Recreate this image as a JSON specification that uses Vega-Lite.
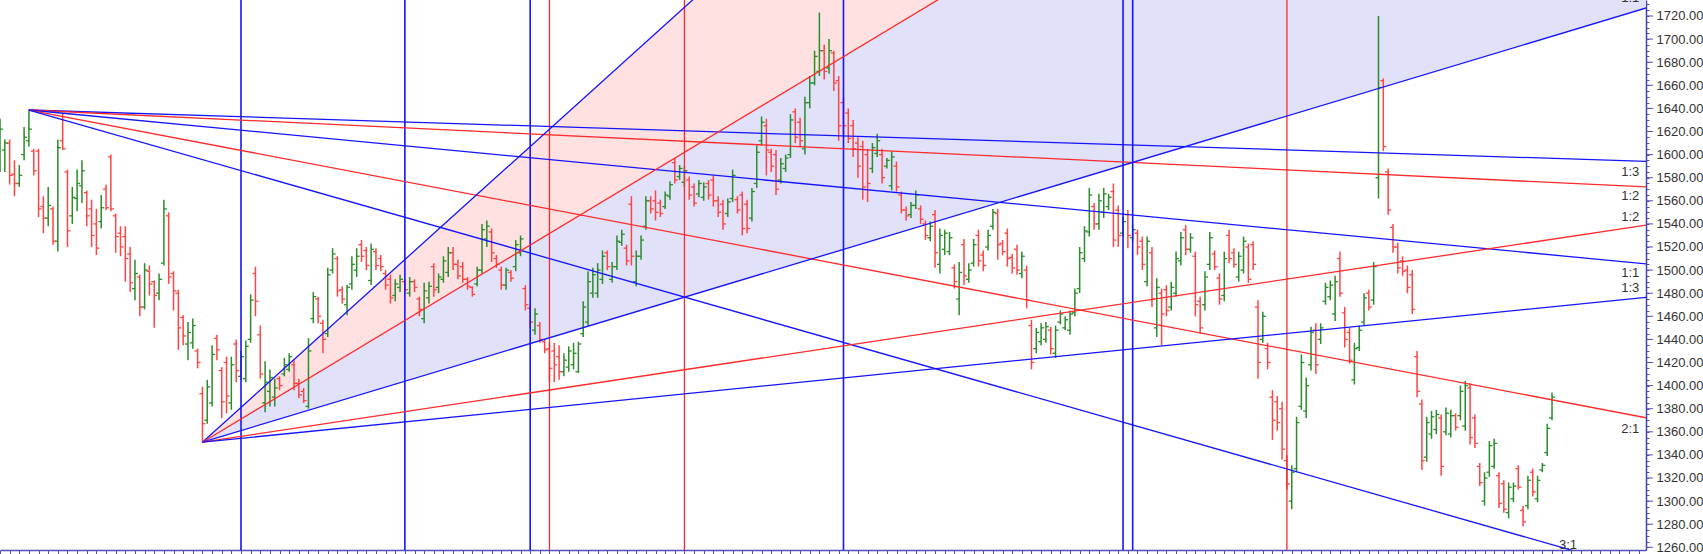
{
  "$schema": "https://vega.github.io/schema/vega-lite/v6.json",
  "width": 1646,
  "height": 550,
  "autosize": {"type": "none"},
  "padding": {"left": 0, "top": 0, "right": 57, "bottom": 4},
  "background": "white",
  "config": {"view": {"stroke": null}, "font": "Liberation Sans"},
  "datasets": {
    "bars": [
      {"i":0,"o":1595,"h":1631,"l":1585,"c":1622},{"i":1,"o":1604,"h":1613,"l":1585,"c":1610},{"i":2,"o":1610,"h":1613,"l":1574,"c":1582},{"i":3,"o":1583,"h":1595,"l":1564,"c":1575},{"i":4,"o":1575,"h":1591,"l":1572,"c":1582},{"i":5,"o":1600,"h":1624,"l":1595,"c":1615},{"i":6,"o":1612,"h":1639,"l":1607,"c":1622},{"i":7,"o":1603,"h":1605,"l":1582,"c":1586},{"i":8,"o":1603,"h":1605,"l":1546,"c":1553},{"i":9,"o":1555,"h":1564,"l":1532,"c":1545},
      {"i":10,"o":1545,"h":1572,"l":1538,"c":1556},{"i":11,"o":1553,"h":1555,"l":1522,"c":1525},{"i":12,"o":1525,"h":1613,"l":1516,"c":1606},{"i":13,"o":1612,"h":1636,"l":1604,"c":1605},{"i":14,"o":1585,"h":1587,"l":1520,"c":1534},{"i":15,"o":1547,"h":1572,"l":1540,"c":1563},{"i":16,"o":1562,"h":1587,"l":1551,"c":1575},{"i":17,"o":1573,"h":1595,"l":1558,"c":1586},{"i":18,"o":1567,"h":1569,"l":1538,"c":1547},{"i":19,"o":1553,"h":1561,"l":1520,"c":1530},
      {"i":20,"o":1540,"h":1553,"l":1513,"c":1519},{"i":21,"o":1542,"h":1565,"l":1536,"c":1554},{"i":22,"o":1570,"h":1574,"l":1552,"c":1554},{"i":23,"o":1598,"h":1600,"l":1551,"c":1553},{"i":24,"o":1547,"h":1549,"l":1515,"c":1529},{"i":25,"o":1532,"h":1538,"l":1512,"c":1520},{"i":26,"o":1529,"h":1538,"l":1490,"c":1510},{"i":27,"o":1514,"h":1520,"l":1481,"c":1489},{"i":28,"o":1484,"h":1509,"l":1474,"c":1497},{"i":29,"o":1494,"h":1496,"l":1460,"c":1468},
      {"i":30,"o":1468,"h":1506,"l":1466,"c":1500},{"i":31,"o":1499,"h":1504,"l":1478,"c":1488},{"i":32,"o":1490,"h":1491,"l":1450,"c":1478},{"i":33,"o":1480,"h":1497,"l":1474,"c":1492},{"i":34,"o":1506,"h":1561,"l":1504,"c":1553},{"i":35,"o":1547,"h":1550,"l":1488,"c":1494},{"i":36,"o":1497,"h":1499,"l":1465,"c":1482},{"i":37,"o":1480,"h":1483,"l":1431,"c":1450},{"i":38,"o":1459,"h":1461,"l":1435,"c":1443},{"i":39,"o":1436,"h":1455,"l":1422,"c":1446},
      {"i":40,"o":1437,"h":1458,"l":1432,"c":1452},{"i":41,"o":1430,"h":1432,"l":1415,"c":1420},{"i":42,"o":1393,"h":1399,"l":1351,"c":1367},{"i":43,"o":1370,"h":1405,"l":1367,"c":1399},{"i":44,"o":1385,"h":1435,"l":1382,"c":1427},{"i":45,"o":1441,"h":1444,"l":1422,"c":1431},{"i":46,"o":1413,"h":1416,"l":1372,"c":1386},{"i":47,"o":1420,"h":1425,"l":1376,"c":1391},{"i":48,"o":1385,"h":1425,"l":1379,"c":1418},{"i":49,"o":1436,"h":1440,"l":1403,"c":1413},
      {"i":50,"o":1408,"h":1430,"l":1405,"c":1425},{"i":51,"o":1406,"h":1439,"l":1403,"c":1434},{"i":52,"o":1440,"h":1479,"l":1437,"c":1474},{"i":53,"o":1497,"h":1503,"l":1460,"c":1473},{"i":54,"o":1444,"h":1452,"l":1406,"c":1410},{"i":55,"o":1385,"h":1421,"l":1377,"c":1403},{"i":56,"o":1395,"h":1414,"l":1382,"c":1407},{"i":57,"o":1390,"h":1406,"l":1382,"c":1398},{"i":58,"o":1406,"h":1408,"l":1396,"c":1400},{"i":59,"o":1410,"h":1424,"l":1408,"c":1418},
      {"i":60,"o":1414,"h":1428,"l":1412,"c":1425},{"i":61,"o":1418,"h":1422,"l":1396,"c":1402},{"i":62,"o":1402,"h":1406,"l":1389,"c":1392},{"i":63,"o":1395,"h":1398,"l":1385,"c":1387},{"i":64,"o":1382,"h":1441,"l":1380,"c":1430},{"i":65,"o":1458,"h":1481,"l":1454,"c":1477},{"i":66,"o":1475,"h":1477,"l":1454,"c":1460},{"i":67,"o":1454,"h":1457,"l":1428,"c":1440},{"i":68,"o":1445,"h":1502,"l":1442,"c":1496},{"i":69,"o":1500,"h":1519,"l":1497,"c":1514},
      {"i":70,"o":1510,"h":1512,"l":1477,"c":1482},{"i":71,"o":1483,"h":1486,"l":1471,"c":1475},{"i":72,"o":1470,"h":1487,"l":1461,"c":1485},{"i":73,"o":1488,"h":1512,"l":1483,"c":1505},{"i":74,"o":1500,"h":1519,"l":1494,"c":1512},{"i":75,"o":1522,"h":1526,"l":1507,"c":1512},{"i":76,"o":1517,"h":1520,"l":1500,"c":1504},{"i":77,"o":1491,"h":1523,"l":1487,"c":1518},{"i":78,"o":1516,"h":1519,"l":1500,"c":1504},{"i":79,"o":1510,"h":1513,"l":1499,"c":1503},
      {"i":80,"o":1497,"h":1500,"l":1483,"c":1487},{"i":81,"o":1492,"h":1496,"l":1471,"c":1476},{"i":82,"o":1478,"h":1492,"l":1473,"c":1488},{"i":83,"o":1485,"h":1496,"l":1481,"c":1492},{"i":84,"o":1490,"h":1492,"l":1479,"c":1483},{"i":85,"o":1480,"h":1494,"l":1477,"c":1490},{"i":86,"o":1490,"h":1492,"l":1481,"c":1485},{"i":87,"o":1475,"h":1477,"l":1460,"c":1466},{"i":88,"o":1458,"h":1489,"l":1454,"c":1482},{"i":89,"o":1476,"h":1490,"l":1471,"c":1486},
      {"i":90,"o":1503,"h":1506,"l":1477,"c":1483},{"i":91,"o":1485,"h":1497,"l":1480,"c":1494},{"i":92,"o":1492,"h":1512,"l":1489,"c":1508},{"i":93,"o":1498,"h":1520,"l":1494,"c":1515},{"i":94,"o":1515,"h":1520,"l":1500,"c":1505},{"i":95,"o":1505,"h":1509,"l":1492,"c":1495},{"i":96,"o":1503,"h":1507,"l":1489,"c":1492},{"i":97,"o":1492,"h":1494,"l":1483,"c":1486},{"i":98,"o":1485,"h":1486,"l":1477,"c":1479},{"i":99,"o":1488,"h":1503,"l":1486,"c":1500},
      {"i":100,"o":1500,"h":1540,"l":1497,"c":1535},{"i":101,"o":1527,"h":1543,"l":1520,"c":1538},{"i":102,"o":1533,"h":1536,"l":1507,"c":1515},{"i":103,"o":1510,"h":1513,"l":1502,"c":1505},{"i":104,"o":1500,"h":1503,"l":1483,"c":1487},{"i":105,"o":1487,"h":1502,"l":1483,"c":1500},{"i":106,"o":1498,"h":1500,"l":1490,"c":1493},{"i":107,"o":1503,"h":1526,"l":1499,"c":1522},{"i":108,"o":1515,"h":1530,"l":1512,"c":1527},{"i":109,"o":1484,"h":1487,"l":1465,"c":1470},
      {"i":110,"o":1467,"h":1470,"l":1450,"c":1455},{"i":111,"o":1448,"h":1467,"l":1444,"c":1462},{"i":112,"o":1452,"h":1455,"l":1437,"c":1440},{"i":113,"o":1438,"h":1440,"l":1428,"c":1431},{"i":114,"o":1432,"h":1437,"l":1403,"c":1415},{"i":115,"o":1430,"h":1437,"l":1403,"c":1418},{"i":116,"o":1425,"h":1435,"l":1405,"c":1412},{"i":117,"o":1412,"h":1428,"l":1408,"c":1422},{"i":118,"o":1416,"h":1434,"l":1412,"c":1430},{"i":119,"o":1418,"h":1437,"l":1414,"c":1428},
      {"i":120,"o":1412,"h":1438,"l":1411,"c":1436},{"i":121,"o":1445,"h":1473,"l":1442,"c":1468},{"i":122,"o":1455,"h":1499,"l":1452,"c":1490},{"i":123,"o":1480,"h":1502,"l":1476,"c":1496},{"i":124,"o":1480,"h":1506,"l":1476,"c":1500},{"i":125,"o":1492,"h":1517,"l":1488,"c":1512},{"i":126,"o":1515,"h":1517,"l":1500,"c":1503},{"i":127,"o":1492,"h":1507,"l":1489,"c":1503},{"i":128,"o":1503,"h":1530,"l":1500,"c":1525},{"i":129,"o":1524,"h":1535,"l":1521,"c":1531},
      {"i":130,"o":1519,"h":1522,"l":1504,"c":1508},{"i":131,"o":1557,"h":1564,"l":1504,"c":1512},{"i":132,"o":1490,"h":1517,"l":1486,"c":1512},{"i":133,"o":1512,"h":1530,"l":1509,"c":1526},{"i":134,"o":1538,"h":1564,"l":1535,"c":1560},{"i":135,"o":1560,"h":1564,"l":1549,"c":1553},{"i":136,"o":1560,"h":1569,"l":1543,"c":1550},{"i":137,"o":1558,"h":1561,"l":1546,"c":1549},{"i":138,"o":1555,"h":1568,"l":1553,"c":1565},{"i":139,"o":1564,"h":1577,"l":1561,"c":1574},
      {"i":140,"o":1593,"h":1597,"l":1575,"c":1578},{"i":141,"o":1581,"h":1591,"l":1578,"c":1588},{"i":142,"o":1576,"h":1590,"l":1572,"c":1586},{"i":143,"o":1578,"h":1581,"l":1561,"c":1565},{"i":144,"o":1572,"h":1575,"l":1555,"c":1558},{"i":145,"o":1566,"h":1578,"l":1563,"c":1575},{"i":146,"o":1563,"h":1576,"l":1560,"c":1572},{"i":147,"o":1575,"h":1578,"l":1561,"c":1565},{"i":148,"o":1578,"h":1582,"l":1555,"c":1560},{"i":149,"o":1560,"h":1564,"l":1546,"c":1550},
      {"i":150,"o":1557,"h":1561,"l":1535,"c":1540},{"i":151,"o":1549,"h":1562,"l":1546,"c":1559},{"i":152,"o":1562,"h":1587,"l":1559,"c":1582},{"i":153,"o":1561,"h":1564,"l":1549,"c":1552},{"i":154,"o":1565,"h":1568,"l":1530,"c":1536},{"i":155,"o":1557,"h":1561,"l":1532,"c":1536},{"i":156,"o":1545,"h":1571,"l":1542,"c":1568},{"i":157,"o":1575,"h":1608,"l":1571,"c":1602},{"i":158,"o":1612,"h":1633,"l":1608,"c":1628},{"i":159,"o":1625,"h":1631,"l":1582,"c":1604},
      {"i":160,"o":1602,"h":1605,"l":1585,"c":1590},{"i":161,"o":1600,"h":1604,"l":1565,"c":1570},{"i":162,"o":1578,"h":1597,"l":1575,"c":1592},{"i":163,"o":1588,"h":1600,"l":1585,"c":1597},{"i":164,"o":1600,"h":1635,"l":1597,"c":1630},{"i":165,"o":1637,"h":1640,"l":1610,"c":1615},{"i":166,"o":1628,"h":1632,"l":1607,"c":1612},{"i":167,"o":1605,"h":1650,"l":1600,"c":1645},{"i":168,"o":1645,"h":1668,"l":1640,"c":1662},{"i":169,"o":1662,"h":1690,"l":1660,"c":1685},
      {"i":170,"o":1672,"h":1723,"l":1668,"c":1690},{"i":171,"o":1690,"h":1695,"l":1665,"c":1672},{"i":172,"o":1675,"h":1700,"l":1670,"c":1690},{"i":173,"o":1688,"h":1690,"l":1655,"c":1662},{"i":174,"o":1664,"h":1668,"l":1612,"c":1625},{"i":175,"o":1645,"h":1650,"l":1615,"c":1625},{"i":176,"o":1636,"h":1640,"l":1610,"c":1614},{"i":177,"o":1625,"h":1630,"l":1598,"c":1605},{"i":178,"o":1610,"h":1615,"l":1580,"c":1590},{"i":179,"o":1607,"h":1612,"l":1561,"c":1572},
      {"i":180,"o":1600,"h":1605,"l":1559,"c":1575},{"i":181,"o":1588,"h":1610,"l":1584,"c":1606},{"i":182,"o":1601,"h":1618,"l":1598,"c":1612},{"i":183,"o":1600,"h":1605,"l":1575,"c":1580},{"i":184,"o":1590,"h":1597,"l":1588,"c":1595},{"i":185,"o":1573,"h":1603,"l":1569,"c":1598},{"i":186,"o":1590,"h":1594,"l":1568,"c":1572},{"i":187,"o":1565,"h":1568,"l":1549,"c":1552},{"i":188,"o":1552,"h":1555,"l":1543,"c":1547},{"i":189,"o":1548,"h":1559,"l":1545,"c":1556},
      {"i":190,"o":1556,"h":1569,"l":1553,"c":1565},{"i":191,"o":1553,"h":1556,"l":1540,"c":1544},{"i":192,"o":1540,"h":1543,"l":1526,"c":1530},{"i":193,"o":1528,"h":1542,"l":1525,"c":1538},{"i":194,"o":1548,"h":1552,"l":1502,"c":1515},{"i":195,"o":1505,"h":1536,"l":1497,"c":1530},{"i":196,"o":1518,"h":1535,"l":1513,"c":1532},{"i":197,"o":1516,"h":1533,"l":1513,"c":1528},{"i":198,"o":1502,"h":1505,"l":1484,"c":1490},{"i":199,"o":1475,"h":1507,"l":1461,"c":1498},
      {"i":200,"o":1522,"h":1527,"l":1487,"c":1495},{"i":201,"o":1492,"h":1506,"l":1489,"c":1500},{"i":202,"o":1506,"h":1527,"l":1503,"c":1522},{"i":203,"o":1530,"h":1535,"l":1503,"c":1508},{"i":204,"o":1513,"h":1517,"l":1499,"c":1504},{"i":205,"o":1520,"h":1535,"l":1517,"c":1530},{"i":206,"o":1538,"h":1553,"l":1535,"c":1550},{"i":207,"o":1549,"h":1553,"l":1509,"c":1522},{"i":208,"o":1523,"h":1526,"l":1513,"c":1516},{"i":209,"o":1532,"h":1536,"l":1503,"c":1510},
      {"i":210,"o":1511,"h":1514,"l":1497,"c":1502},{"i":211,"o":1518,"h":1522,"l":1496,"c":1500},{"i":212,"o":1497,"h":1516,"l":1493,"c":1512},{"i":213,"o":1500,"h":1504,"l":1467,"c":1474},{"i":214,"o":1452,"h":1457,"l":1414,"c":1420},{"i":215,"o":1432,"h":1450,"l":1428,"c":1446},{"i":216,"o":1438,"h":1454,"l":1435,"c":1450},{"i":217,"o":1440,"h":1455,"l":1437,"c":1451},{"i":218,"o":1448,"h":1451,"l":1427,"c":1432},{"i":219,"o":1428,"h":1452,"l":1424,"c":1448},
      {"i":220,"o":1455,"h":1465,"l":1453,"c":1462},{"i":221,"o":1450,"h":1460,"l":1448,"c":1457},{"i":222,"o":1448,"h":1465,"l":1444,"c":1462},{"i":223,"o":1463,"h":1484,"l":1460,"c":1480},{"i":224,"o":1484,"h":1520,"l":1480,"c":1515},{"i":225,"o":1510,"h":1538,"l":1507,"c":1534},{"i":226,"o":1533,"h":1571,"l":1529,"c":1565},{"i":227,"o":1555,"h":1558,"l":1535,"c":1540},{"i":228,"o":1540,"h":1566,"l":1535,"c":1560},{"i":229,"o":1550,"h":1571,"l":1545,"c":1566},
      {"i":230,"o":1555,"h":1566,"l":1552,"c":1563},{"i":231,"o":1568,"h":1575,"l":1520,"c":1526},{"i":232,"o":1552,"h":1556,"l":1520,"c":1530},{"i":233,"o":1532,"h":1546,"l":1529,"c":1542},{"i":234,"o":1548,"h":1552,"l":1519,"c":1530},{"i":235,"o":1528,"h":1540,"l":1525,"c":1535},{"i":236,"o":1532,"h":1535,"l":1513,"c":1520},{"i":237,"o":1525,"h":1529,"l":1500,"c":1505},{"i":238,"o":1490,"h":1529,"l":1486,"c":1525},{"i":239,"o":1515,"h":1520,"l":1468,"c":1475},
      {"i":240,"o":1450,"h":1493,"l":1442,"c":1485},{"i":241,"o":1480,"h":1484,"l":1435,"c":1462},{"i":242,"o":1483,"h":1487,"l":1460,"c":1465},{"i":243,"o":1468,"h":1490,"l":1465,"c":1485},{"i":244,"o":1480,"h":1516,"l":1477,"c":1510},{"i":245,"o":1508,"h":1533,"l":1504,"c":1528},{"i":246,"o":1535,"h":1539,"l":1513,"c":1518},{"i":247,"o":1518,"h":1532,"l":1515,"c":1528},{"i":248,"o":1512,"h":1516,"l":1460,"c":1470},{"i":249,"o":1473,"h":1477,"l":1445,"c":1450},
      {"i":250,"o":1470,"h":1499,"l":1465,"c":1494},{"i":251,"o":1505,"h":1533,"l":1500,"c":1528},{"i":252,"o":1514,"h":1517,"l":1500,"c":1503},{"i":253,"o":1493,"h":1497,"l":1470,"c":1475},{"i":254,"o":1478,"h":1516,"l":1473,"c":1510},{"i":255,"o":1530,"h":1535,"l":1506,"c":1510},{"i":256,"o":1515,"h":1519,"l":1502,"c":1505},{"i":257,"o":1494,"h":1516,"l":1490,"c":1512},{"i":258,"o":1500,"h":1529,"l":1497,"c":1525},{"i":259,"o":1520,"h":1523,"l":1489,"c":1492},
      {"i":260,"o":1522,"h":1525,"l":1500,"c":1505},{"i":261,"o":1468,"h":1474,"l":1406,"c":1420},{"i":262,"o":1440,"h":1464,"l":1437,"c":1460},{"i":263,"o":1432,"h":1437,"l":1414,"c":1420},{"i":264,"o":1390,"h":1396,"l":1353,"c":1370},{"i":265,"o":1386,"h":1391,"l":1361,"c":1368},{"i":266,"o":1380,"h":1386,"l":1336,"c":1345},{"i":267,"o":1335,"h":1340,"l":1310,"c":1315},{"i":268,"o":1300,"h":1331,"l":1293,"c":1325},{"i":269,"o":1328,"h":1373,"l":1325,"c":1368},
      {"i":270,"o":1382,"h":1427,"l":1379,"c":1420},{"i":271,"o":1378,"h":1407,"l":1372,"c":1400},{"i":272,"o":1418,"h":1451,"l":1413,"c":1446},{"i":273,"o":1448,"h":1454,"l":1410,"c":1418},{"i":274,"o":1440,"h":1454,"l":1436,"c":1450},{"i":275,"o":1473,"h":1489,"l":1470,"c":1485},{"i":276,"o":1477,"h":1491,"l":1474,"c":1487},{"i":277,"o":1462,"h":1495,"l":1456,"c":1490},{"i":278,"o":1510,"h":1516,"l":1477,"c":1480},{"i":279,"o":1463,"h":1468,"l":1433,"c":1440},
      {"i":280,"o":1446,"h":1450,"l":1419,"c":1422},{"i":281,"o":1405,"h":1437,"l":1401,"c":1432},{"i":282,"o":1433,"h":1452,"l":1430,"c":1448},{"i":283,"o":1455,"h":1480,"l":1452,"c":1476},{"i":284,"o":1480,"h":1483,"l":1465,"c":1468},{"i":285,"o":1474,"h":1507,"l":1470,"c":1503},{"i":286,"o":1580,"h":1720,"l":1562,"c":1658},{"i":287,"o":1664,"h":1666,"l":1603,"c":1607},{"i":288,"o":1585,"h":1588,"l":1548,"c":1552},{"i":289,"o":1537,"h":1540,"l":1515,"c":1520},
      {"i":290,"o":1520,"h":1524,"l":1497,"c":1502},{"i":291,"o":1508,"h":1512,"l":1495,"c":1499},{"i":292,"o":1500,"h":1504,"l":1480,"c":1485},{"i":293,"o":1496,"h":1500,"l":1462,"c":1466},{"i":294,"o":1425,"h":1430,"l":1390,"c":1395},{"i":295,"o":1384,"h":1388,"l":1327,"c":1335},{"i":296,"o":1338,"h":1373,"l":1334,"c":1368},{"i":297,"o":1358,"h":1378,"l":1354,"c":1373},{"i":298,"o":1362,"h":1379,"l":1358,"c":1375},{"i":299,"o":1372,"h":1375,"l":1322,"c":1330},
      {"i":300,"o":1360,"h":1381,"l":1357,"c":1376},{"i":301,"o":1358,"h":1379,"l":1355,"c":1374},{"i":302,"o":1374,"h":1376,"l":1361,"c":1364},{"i":303,"o":1374,"h":1400,"l":1370,"c":1395},{"i":304,"o":1365,"h":1404,"l":1361,"c":1400},{"i":305,"o":1398,"h":1402,"l":1349,"c":1355},{"i":306,"o":1372,"h":1375,"l":1346,"c":1350},{"i":307,"o":1330,"h":1333,"l":1313,"c":1316},{"i":308,"o":1300,"h":1325,"l":1296,"c":1320},{"i":309,"o":1325,"h":1352,"l":1321,"c":1348},
      {"i":310,"o":1330,"h":1354,"l":1328,"c":1350},{"i":311,"o":1322,"h":1325,"l":1294,"c":1298},{"i":312,"o":1315,"h":1318,"l":1290,"c":1293},{"i":313,"o":1290,"h":1316,"l":1285,"c":1312},{"i":314,"o":1302,"h":1316,"l":1299,"c":1313},{"i":315,"o":1328,"h":1331,"l":1310,"c":1312},{"i":316,"o":1292,"h":1296,"l":1278,"c":1282},{"i":317,"o":1296,"h":1322,"l":1293,"c":1318},{"i":318,"o":1325,"h":1328,"l":1304,"c":1308},{"i":319,"o":1302,"h":1322,"l":1299,"c":1318},
      {"i":320,"o":1327,"h":1333,"l":1325,"c":1331},{"i":321,"o":1342,"h":1367,"l":1339,"c":1363},{"i":322,"o":1372,"h":1394,"l":1370,"c":1390}
    ],
    "fans": [
      {"fan":"high","ratio":"1:3","i0":6,"p0":1638.6,"i1":345,"p1":1593.7},
      {"fan":"high","ratio":"1:2","i0":6,"p0":1638.6,"i1":345,"p1":1571.3},
      {"fan":"high","ratio":"1:1","i0":6,"p0":1638.6,"i1":345,"p1":1504.0},
      {"fan":"high","ratio":"2:1","i0":6,"p0":1638.6,"i1":345,"p1":1369.4},
      {"fan":"high","ratio":"3:1","i0":6,"p0":1638.6,"i1":345,"p1":1234.9},
      {"fan":"low","ratio":"3:1","i0":42,"p0":1351,"i1":345,"p1":2491.8},
      {"fan":"low","ratio":"2:1","i0":42,"p0":1351,"i1":345,"p1":2111.5},
      {"fan":"low","ratio":"1:1","i0":42,"p0":1351,"i1":345,"p1":1731.3},
      {"fan":"low","ratio":"1:2","i0":42,"p0":1351,"i1":345,"p1":1541.1},
      {"fan":"low","ratio":"1:3","i0":42,"p0":1351,"i1":345,"p1":1477.8}
    ],
    "bands": [
      {"band":"3:1-2:1","i":42,"lo":1351,"hi":1351},
      {"band":"3:1-2:1","i":345,"lo":2111.5,"hi":2491.8},
      {"band":"2:1-1:1","i":42,"lo":1351,"hi":1351},
      {"band":"2:1-1:1","i":345,"lo":1731.3,"hi":2111.5}
    ],
    "cycles": [
      {"i":50,"kind":"time"},{"i":84,"kind":"time"},{"i":110,"kind":"time"},{"i":175,"kind":"time"},{"i":233,"kind":"time"},{"i":235,"kind":"time"},
      {"i":114,"kind":"turn"},{"i":142,"kind":"turn"},{"i":267,"kind":"turn"}
    ],
    "majors": [
      {"p":1260},{"p":1280},{"p":1300},{"p":1320},{"p":1340},{"p":1360},{"p":1380},{"p":1400},{"p":1420},{"p":1440},{"p":1460},{"p":1480},
      {"p":1500},{"p":1520},{"p":1540},{"p":1560},{"p":1580},{"p":1600},{"p":1620},{"p":1640},{"p":1660},{"p":1680},{"p":1700},{"p":1720}
    ],
    "tags": [
      {"t":"1:1","i":340.1,"p":1735.5},
      {"t":"1:3","i":340.1,"p":1585.2},
      {"t":"1:2","i":340.1,"p":1563.9},
      {"t":"1:2","i":340.1,"p":1546.2},
      {"t":"1:1","i":340.1,"p":1497.2},
      {"t":"1:3","i":340.1,"p":1484.2},
      {"t":"2:1","i":340.1,"p":1362.4},
      {"t":"3:1","i":327.2,"p":1262}
    ]
  },
  "layer": [
    {
      "data": {"name": "bands"},
      "transform": [{"filter": "datum.band === '3:1-2:1'"}],
      "mark": {"type": "area", "clip": true, "color": "#ffe1e1", "interpolate": "linear"},
      "encoding": {
        "x": {"field": "i", "type": "quantitative",
          "scale": {"domain": [0, 341.5], "nice": false, "zero": false},
          "axis": {"orient": "bottom", "title": null, "labels": false, "grid": false, "tickCount": 170,
            "tickSize": 4, "tickColor": "#5050b8", "domainColor": "#5050b8", "domainWidth": 1.5, "tickWidth": 1}},
        "y": {"field": "hi", "type": "quantitative",
          "scale": {"domain": [1257.66, 1733.85], "nice": false, "zero": false},
          "axis": {"orient": "right", "title": null, "grid": false, "tickCount": 95, "labelOverlap": false,
            "labelExpr": "datum.value % 20 === 0 ? format(datum.value, '.2f') : ''",
            "tickSize": 3, "tickColor": "#5050b8", "domainColor": "#4040b0", "domainWidth": 1.5,
            "labelFont": "Liberation Sans", "labelFontSize": 13, "labelColor": "#333333", "labelPadding": 7}},
        "y2": {"field": "lo"}
      }
    },
    {
      "data": {"name": "bands"},
      "transform": [{"filter": "datum.band === '2:1-1:1'"}],
      "mark": {"type": "area", "clip": true, "color": "#e1e1fa", "interpolate": "linear"},
      "encoding": {
        "x": {"field": "i", "type": "quantitative"},
        "y": {"field": "hi", "type": "quantitative"},
        "y2": {"field": "lo"}
      }
    },
    {
      "data": {"name": "bars"},
      "mark": {"type": "rule", "strokeWidth": 1.5},
      "encoding": {
        "x": {"field": "i", "type": "quantitative"},
        "y": {"field": "l", "type": "quantitative"},
        "y2": {"field": "h"},
        "color": {"condition": {"test": "datum.c >= datum.o", "value": "#2a8c2a"}, "value": "#ff4444"}
      }
    },
    {
      "data": {"name": "bars"},
      "mark": {"type": "rule", "strokeWidth": 1.3, "xOffset": -3, "x2Offset": 0},
      "encoding": {
        "x": {"field": "i", "type": "quantitative"},
        "x2": {"field": "i"},
        "y": {"field": "o", "type": "quantitative"},
        "color": {"condition": {"test": "datum.c >= datum.o", "value": "#2a8c2a"}, "value": "#ff4444"}
      }
    },
    {
      "data": {"name": "bars"},
      "mark": {"type": "rule", "strokeWidth": 1.3, "xOffset": 0, "x2Offset": 3},
      "encoding": {
        "x": {"field": "i", "type": "quantitative"},
        "x2": {"field": "i"},
        "y": {"field": "c", "type": "quantitative"},
        "color": {"condition": {"test": "datum.c >= datum.o", "value": "#2a8c2a"}, "value": "#ff4444"}
      }
    },
    {
      "data": {"name": "cycles"},
      "mark": {"type": "rule"},
      "encoding": {
        "x": {"field": "i", "type": "quantitative"},
        "color": {"condition": {"test": "datum.kind === 'turn'", "value": "#ff2a2a"}, "value": "#1414ff"},
        "strokeWidth": {"condition": {"test": "datum.kind === 'turn'", "value": 1.3}, "value": 1.6}
      }
    },
    {
      "data": {"name": "fans"},
      "mark": {"type": "rule", "clip": true, "strokeWidth": 1.3},
      "encoding": {
        "x": {"field": "i0", "type": "quantitative"},
        "x2": {"field": "i1"},
        "y": {"field": "p0", "type": "quantitative"},
        "y2": {"field": "p1"},
        "color": {"condition": {"test": "datum.ratio === '1:2' || datum.ratio === '2:1'", "value": "#ff2a2a"}, "value": "#1414ff"}
      }
    },
    {
      "data": {"name": "majors"},
      "mark": {"type": "rule", "color": "#5050b8", "strokeWidth": 1},
      "encoding": {
        "x": {"datum": 341.5, "type": "quantitative"},
        "x2": {"datum": 342.95},
        "y": {"field": "p", "type": "quantitative"}
      }
    },
    {
      "data": {"name": "tags"},
      "mark": {"type": "text", "align": "right", "baseline": "middle", "font": "Liberation Sans", "fontSize": 13, "color": "#333333"},
      "encoding": {
        "x": {"field": "i", "type": "quantitative"},
        "y": {"field": "p", "type": "quantitative"},
        "text": {"field": "t"}
      }
    }
  ]
}
